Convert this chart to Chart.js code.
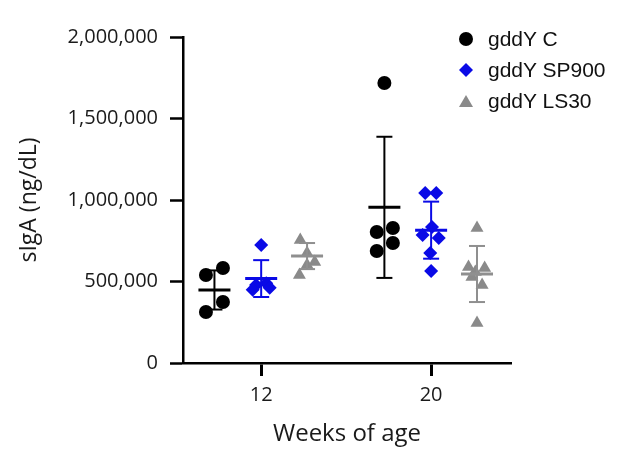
<!DOCTYPE html>
<html>
<head>
<meta charset="utf-8">
<script src="https://cdn.jsdelivr.net/npm/chart.js@4/dist/chart.umd.min.js"></script>
<style>
  body { margin: 0; background: #fff; }
  #wrap { position: relative; width: 630px; height: 459px; }
  #legend { position: absolute; left: 457px; top: 23px; font-family: "Liberation Sans", Arial, sans-serif; font-size: 21px; color: #111; }
  #legend div { display: flex; align-items: center; height: 31px; }
  #legend svg { width: 18px; height: 18px; margin-right: 13px; }
</style>
</head>
<body>
<div id="wrap">
  <canvas id="chart" width="630" height="459"></canvas>
  <div id="legend"></div>
</div>
<script>
// Categories and series
const weeks       = ['12', '20'];
const seriesNames = ['gddY C', 'gddY SP900', 'gddY LS30'];

// Individual values (ng/dL)
const cWk12  = [540000, 583000, 374000, 313000];
const cWk20  = [1718000, 828000, 804000, 736000, 687000];
const spWk12 = [724000, 490000, 478000, 462000, 450000];
const spWk20 = [1043000, 1043000, 834000, 785000, 767000, 675000, 564000];
const lsWk12 = [755000, 675000, 620000, 601000, 540000];
const lsWk20 = [828000, 589000, 583000, 558000, 528000, 478000, 245000];

// Horizontal scatter of the dots within a group (x units)
const cJit12  = [-0.05, 0.05, 0.05, -0.05];
const cJit20  = [0, 0.05, -0.045, 0.05, -0.045];
const spJit12 = [0, 0.03, -0.03, 0.05, -0.05];
const spJit20 = [-0.035, 0.03, 0.005, -0.05, 0.045, -0.005, 0];
const lsJit12 = [-0.04, 0, 0.045, 0, -0.045];
const lsJit20 = [0, -0.05, 0.045, -0.01, -0.03, 0.03, 0];

// Mean and SD per week
const cMean  = [448000, 955000];
const cSD    = [120000, 433000];
const spMean = [518000, 815000];
const spSD   = [113000, 175000];
const lsMean = [656000, 546000];
const lsSD   = [80000, 172000];

// y-axis ticks
const yTicks = [0, 500000, 1000000, 1500000, 2000000];

const series = [
  { name: seriesNames[0], values: [cWk12, cWk20],   jit: [cJit12, cJit20],   mean: cMean,  sd: cSD,
    color: '#000000', bar: '#000000', style: 'circle',  radius: 7,   shift: -0.275 },
  { name: seriesNames[1], values: [spWk12, spWk20], jit: [spJit12, spJit20], mean: spMean, sd: spSD,
    color: '#0a0ae6', bar: '#0a0ae6', style: 'rectRot', radius: 7,   shift: 0 },
  { name: seriesNames[2], values: [lsWk12, lsWk20], jit: [lsJit12, lsJit20], mean: lsMean, sd: lsSD,
    color: '#8a8a8a', bar: '#8f8f8f', style: 'triangle', radius: 7.5, shift: 0.27 }
];

const datasets = [];
series.forEach(s => {
  const pts = [];
  weeks.forEach((w, i) => {
    s.values[i].forEach((v, j) => pts.push({ x: i + s.shift + s.jit[i][j], y: v }));
  });
  datasets.push({
    label: s.name, data: pts, order: 3,
    pointStyle: s.style, pointRadius: s.radius,
    backgroundColor: s.color, borderColor: s.color, borderWidth: 0
  });

  weeks.forEach((w, i) => {
    const x = i + s.shift;
    // SD bar with caps
    datasets.push({
      label: '', order: 1, showLine: true,
      data: [{ x, y: s.mean[i] - s.sd[i] }, { x, y: s.mean[i] + s.sd[i] }],
      borderColor: s.bar, borderWidth: 2,
      pointStyle: 'line', pointRadius: 8, pointBorderWidth: 2, pointBorderColor: s.bar
    });
    // mean line
    datasets.push({
      label: '', order: 0,
      data: [{ x, y: s.mean[i] }],
      pointStyle: 'line', pointRadius: 16, pointBorderWidth: 3, pointBorderColor: s.bar
    });
  });
});

const axisFont = { family: '"Open Sans", sans-serif', size: 20 };

new Chart(document.getElementById('chart'), {
  type: 'scatter',
  data: { datasets },
  options: {
    responsive: false,
    animation: false,
    events: [],
    layout: { padding: { top: 37, right: 119, left: 0, bottom: 0 } },
    plugins: { legend: { display: false }, tooltip: { enabled: false } },
    scales: {
      x: {
        type: 'linear', min: -0.46, max: 1.47,
        afterBuildTicks: sc => { sc.ticks = weeks.map((w, i) => ({ value: i })); },
        afterFit: sc => { sc.height = 96; },
        ticks: { callback: v => weeks[v], color: '#1a1a1a', font: axisFont, padding: 7, maxRotation: 0 },
        grid: { drawOnChartArea: false, drawTicks: true, tickLength: 13, tickWidth: 3, color: '#000' },
        border: { color: '#000', width: 2.5 },
        title: { display: true, text: 'Weeks of age', color: '#1a1a1a',
                 font: { family: '"Open Sans", sans-serif', size: 24 }, padding: { top: 0, bottom: 10 } }
      },
      y: {
        min: 0, max: 2000000,
        afterBuildTicks: sc => { sc.ticks = yTicks.map(v => ({ value: v })); },
        afterFit: sc => { sc.width = 183; },
        ticks: { callback: v => v.toLocaleString('en-US'), color: '#1a1a1a', font: axisFont, padding: 12 },
        grid: { drawOnChartArea: false, drawTicks: true, tickLength: 13, tickWidth: 2.5, color: '#000' },
        border: { color: '#000', width: 2.5 },
        title: { display: true, text: 'sIgA (ng/dL)', color: '#1a1a1a',
                 font: { family: '"Open Sans", sans-serif', size: 23 }, padding: { top: 16, bottom: 0 } }
      }
    }
  }
});

// Legend
const markers = [
  '<svg viewBox="0 0 18 18"><circle cx="9" cy="9" r="7" fill="#000"/></svg>',
  '<svg viewBox="0 0 18 18"><polygon points="9,2 16,9 9,16 2,9" fill="#0a0ae6"/></svg>',
  '<svg viewBox="0 0 18 18"><polygon points="9,3 16,15 2,15" fill="#8a8a8a"/></svg>'
];
document.getElementById('legend').innerHTML = seriesNames
  .map((n, i) => '<div>' + markers[i] + '<span>' + n + '</span></div>').join('');
</script>
</body>
</html>
